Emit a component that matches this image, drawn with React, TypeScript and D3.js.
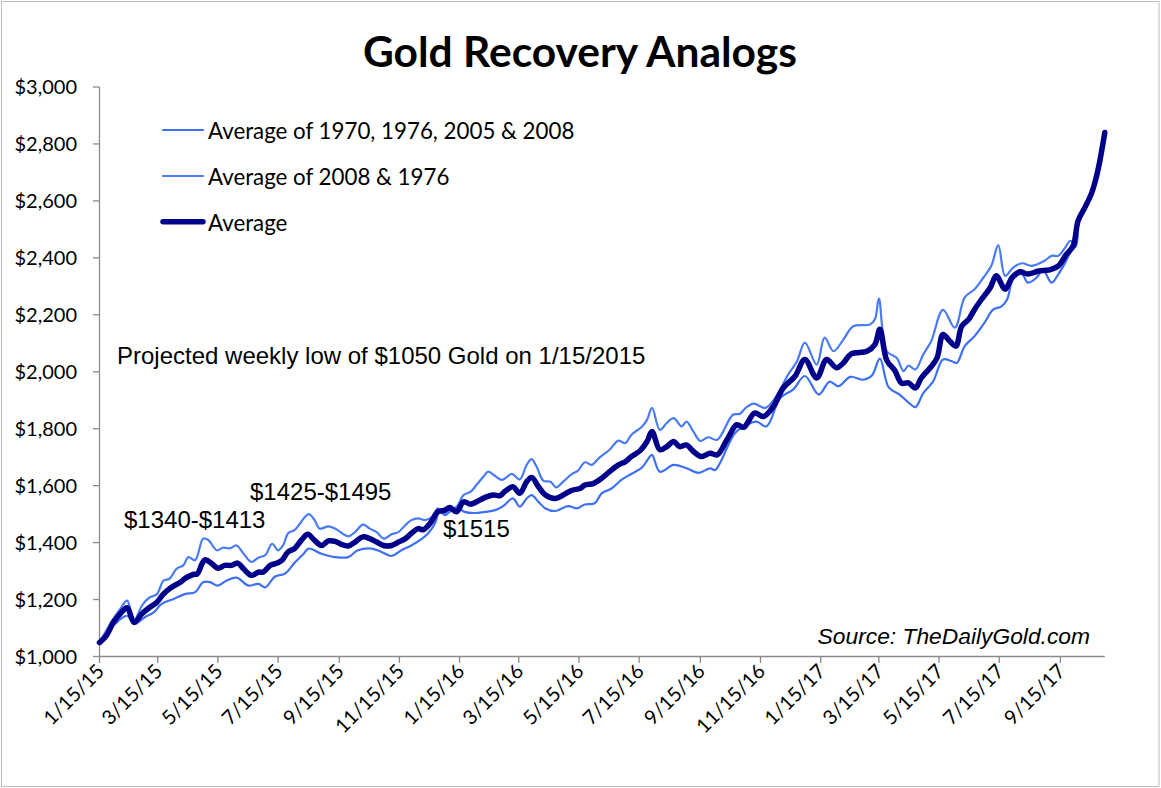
import React from 'react';
import * as d3 from 'd3';

// ---------- DATA ----------
const tickLabels = ['1/15/15','3/15/15','5/15/15','7/15/15','9/15/15','11/15/15','1/15/16','3/15/16','5/15/16','7/15/16','9/15/16','11/15/16','1/15/17','3/15/17','5/15/17','7/15/17','9/15/17'];
const yTicks = [1000,1200,1400,1600,1800,2000,2200,2400,2600,2800,3000];
const startDate = new Date(2015, 0, 15);
const lastDay = 1019; // days after 1/15/2015 of the last weekly point

// Average (thick)
const avgDays = [0,7,14,21,28,35,43,51,58,65,73,82,88,95,99,104,107,114,120,127,134,140,146,154,161,166,173,180,185,191,198,205,211,218,225,232,239,245,252,259,267,274,281,288,296,303,310,316,323,328,335,343,350,355,362,369,376,382,391,399,406,411,419,426,433,438,445,452,462,470,479,487,492,501,509,517,526,533,539,548,555,560,568,575,582,588,595,602,610,619,626,636,646,653,664,673,683,693,705,715,727,737,747,754,762,778,786,791,798,806,813,820,827,833,842,849,855,862,868,874,881,887,894,903,909,918,925,933,941,952,963,972,979,987,992,999,1006,1012,1019];
const avgValues = [1049,1073,1120,1150,1171,1120,1150,1173,1190,1220,1243,1261,1277,1288,1290,1326,1340,1326,1310,1320,1320,1328,1308,1285,1296,1297,1320,1328,1338,1367,1380,1410,1429,1408,1390,1406,1404,1394,1388,1402,1420,1414,1402,1390,1390,1402,1414,1432,1449,1445,1467,1508,1514,1523,1508,1543,1535,1543,1559,1567,1565,1580,1596,1573,1614,1629,1596,1567,1555,1567,1584,1590,1602,1608,1626,1649,1673,1684,1702,1723,1755,1790,1726,1737,1755,1737,1743,1720,1702,1714,1708,1761,1814,1805,1855,1843,1878,1943,1984,2043,1978,2043,2014,2031,2063,2072,2096,2149,2040,2005,1960,1961,1943,1978,2014,2049,2131,2107,2090,2160,2184,2219,2254,2296,2337,2290,2331,2351,2343,2354,2358,2372,2407,2443,2531,2578,2631,2707,2840];

// Average of 2008 & 1976 (thin, upper band)
const pairDays = [0,14,21,28,35,43,51,58,65,71,78,85,90,97,105,110,119,125,132,139,146,154,161,168,175,181,186,191,198,212,218,223,232,239,252,259,267,274,281,288,296,303,310,316,323,330,337,343,348,355,362,369,376,382,389,394,401,408,418,426,433,438,443,450,457,463,470,479,485,492,499,506,517,526,533,539,550,555,560,568,575,582,590,595,602,609,617,626,642,649,655,663,675,686,698,707,715,727,735,744,754,764,781,786,790,798,808,815,820,827,835,843,855,867,877,887,896,904,911,918,926,935,945,958,965,972,979,984,989,992,999,1006,1012,1019];
const pairValues = [1049,1132,1167,1196,1126,1179,1208,1218,1267,1273,1308,1320,1349,1338,1414,1410,1373,1382,1380,1390,1361,1332,1347,1356,1396,1373,1390,1432,1445,1500,1479,1449,1457,1449,1422,1437,1463,1449,1437,1414,1429,1437,1461,1479,1485,1479,1490,1520,1502,1514,1526,1567,1578,1602,1631,1649,1634,1620,1641,1622,1673,1693,1667,1617,1614,1594,1614,1641,1653,1682,1673,1696,1726,1758,1749,1778,1808,1831,1873,1796,1820,1837,1808,1825,1790,1757,1770,1761,1849,1852,1873,1888,1873,1914,1990,2037,2102,2025,2120,2072,2113,2160,2166,2184,2257,2072,2049,2002,2022,2008,2061,2107,2217,2155,2261,2290,2331,2372,2445,2337,2366,2381,2372,2390,2407,2407,2437,2460,2449,2531,2578,2631,2707,2840];

// Average of 1970, 1976, 2005 & 2008 (thin, lower band)
const fourDays = [0,14,28,35,46,55,63,75,87,97,105,112,120,129,139,151,161,168,178,188,198,207,212,225,239,252,262,276,286,296,306,316,327,333,340,345,350,357,364,370,380,391,401,409,419,426,433,438,445,452,462,475,484,492,502,509,519,529,539,550,556,560,568,582,595,607,619,624,644,656,666,676,690,703,715,729,740,749,761,774,783,791,800,811,820,827,835,845,855,864,869,877,887,897,906,914,920,926,935,941,950,956,965,972,979,985,990,993,999,1006,1012,1019];
const fourValues = [1049,1108,1143,1114,1138,1155,1185,1202,1220,1226,1261,1261,1249,1267,1277,1249,1255,1243,1281,1291,1330,1361,1379,1361,1349,1349,1373,1379,1367,1353,1373,1390,1414,1432,1467,1514,1496,1514,1520,1508,1504,1508,1514,1528,1555,1526,1555,1567,1543,1520,1511,1528,1520,1534,1538,1573,1590,1620,1641,1664,1693,1708,1649,1673,1661,1645,1661,1655,1784,1814,1825,1808,1908,1937,1985,1920,1965,1949,1982,1972,1987,2046,1945,1920,1892,1876,1925,1966,2043,2037,2031,2090,2125,2172,2219,2229,2254,2325,2343,2313,2331,2360,2313,2343,2384,2425,2443,2540,2572,2625,2700,2830];

const legendLabels = ['Average of 1970, 1976, 2005 & 2008', 'Average of 2008 & 1976', 'Average'];
const annotations = [
  { text: 'Projected weekly low of $1050 Gold on 1/15/2015', x: 117, y: 364 },
  { text: '$1340-$1413', x: 124, y: 528 },
  { text: '$1425-$1495', x: 250, y: 500 },
  { text: '$1515', x: 443, y: 537 },
];

// ---------- LAYOUT ----------
const W = 1161, H = 788;
const plotLeft = 99.5, plotRight = 1104.8, plotTop = 87, plotBottom = 656.5;
const LIGHT = '#3E70F4';
const LIGHT2 = '#4A7BF6';
const DARK = '#00008A';
const AXIS = '#8a8a8a';
const CAL = 'Lato, "Open Sans", sans-serif';
const ARIAL = '"Liberation Sans", Arial, sans-serif';

const dayToDate = (d: number) => new Date(2015, 0, 15 + d);
const parseLabel = (s: string) => {
  const [m, d, y] = s.split('/').map(Number);
  return new Date(2000 + y, m - 1, d);
};

const x = d3.scaleTime().domain([startDate, dayToDate(lastDay)]).range([plotLeft, plotRight]);
const y = d3.scaleLinear().domain([1000, 3000]).range([plotBottom, plotTop]);

type Pt = [Date, number];
const toPts = (days: number[], vals: number[]): Pt[] => days.map((d, i) => [dayToDate(d), vals[i]]);
const line = d3.line<Pt>().x(d => x(d[0])).y(d => y(d[1])).curve(d3.curveCatmullRom.alpha(0.5));

const fmtMoney = (v: number) => '$' + d3.format(',')(v);

export default function App() {
  const series = [
    { pts: toPts(fourDays, fourValues), color: LIGHT, w: 2.2 },
    { pts: toPts(pairDays, pairValues), color: LIGHT2, w: 2.2 },
    { pts: toPts(avgDays, avgValues), color: DARK, w: 5.5 },
  ];
  const legendColors = [LIGHT, LIGHT2, DARK];
  const legendWidths = [2.2, 2.2, 5.5];
  return (
    <>
      <style>{`body{margin:0}`}</style>
      <svg width={W} height={H} style={{ display: 'block' }}>
        <rect x={0} y={0} width={W} height={H} fill="#fff" />
        <rect x={1.5} y={1.5} width={W - 3.5} height={H - 3} fill="none" stroke="#bdbdbd" strokeWidth={1} />
        <text x={580} y={67} textAnchor="middle" fontFamily={CAL} fontWeight={700} fontSize={42.5} fill="#000">Gold Recovery Analogs</text>

        {/* axes */}
        <line x1={plotLeft} x2={plotLeft} y1={plotTop} y2={plotBottom} stroke={AXIS} strokeWidth={1.3} />
        <line x1={plotLeft} x2={plotRight} y1={plotBottom} y2={plotBottom} stroke={AXIS} strokeWidth={1.3} />
        {yTicks.map(v => (
          <g key={v}>
            <line x1={plotLeft - 6.5} x2={plotLeft} y1={y(v)} y2={y(v)} stroke={AXIS} strokeWidth={1.3} />
            <text x={77} y={y(v)} dy="0.35em" textAnchor="end" fontFamily={CAL} fontSize={20} fill="#000">{fmtMoney(v)}</text>
          </g>
        ))}
        {tickLabels.map(lbl => {
          const tx = x(parseLabel(lbl));
          return (
            <g key={lbl}>
              <line x1={tx} x2={tx} y1={plotBottom} y2={plotBottom + 6.5} stroke={AXIS} strokeWidth={1.3} />
              <text transform={`translate(${tx + 6},${plotBottom + 16}) rotate(-45)`} textAnchor="end" fontFamily={CAL} fontSize={20} fill="#000">{lbl}</text>
            </g>
          );
        })}

        {/* series */}
        {series.map((s, i) => (
          <path key={i} d={line(s.pts) || ''} fill="none" stroke={s.color} strokeWidth={s.w} strokeLinejoin="round" strokeLinecap="round" />
        ))}

        {/* legend */}
        {legendLabels.map((lbl, i) => {
          const ly = [130, 176, 221.7][i];
          return (
            <g key={lbl}>
              <line x1={163} x2={203} y1={ly} y2={ly} stroke={legendColors[i]} strokeWidth={legendWidths[i]} strokeLinecap="round" />
              <text x={208} y={ly + 9} fontFamily={CAL} fontSize={22.3} fill="#000">{lbl}</text>
            </g>
          );
        })}

        {annotations.map(a => (
          <text key={a.text} x={a.x} y={a.y} fontFamily={ARIAL} fontSize={24} fill="#000">{a.text}</text>
        ))}
        <text x={1090} y={644} textAnchor="end" fontFamily={ARIAL} fontStyle="italic" fontSize={22.8} fill="#000">Source: TheDailyGold.com</text>
      </svg>
    </>
  );
}
